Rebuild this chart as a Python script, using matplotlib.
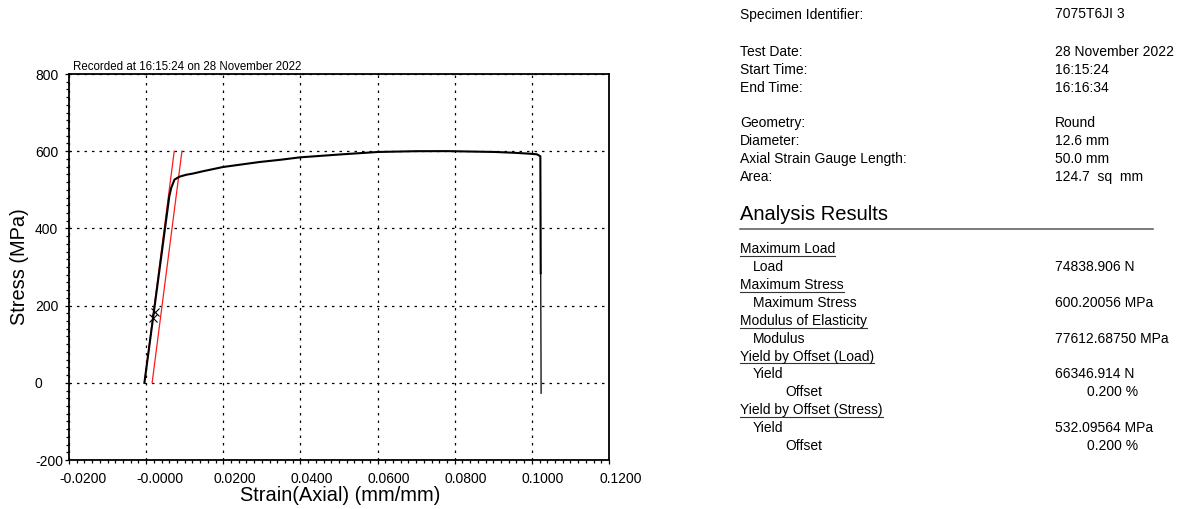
#!/usr/bin/env python3
"""Tensile test report: stress-strain curve with modulus/offset lines and a results panel."""

import matplotlib

matplotlib.use("Agg")
import matplotlib.pyplot as plt
import matplotlib.transforms as mtransforms
from matplotlib.lines import Line2D
from matplotlib.ticker import MultipleLocator

# ---- test curve (strain mm/mm, stress MPa) ----
CURVE_STRAIN = [-0.00045, 0.0060, 0.0065, 0.00735, 0.00865, 0.0104, 0.0121, 0.0147,
                0.0199, 0.0250, 0.0294, 0.0350, 0.0398, 0.0502, 0.0601, 0.0700,
                0.0780, 0.0905, 0.0952, 0.0987, 0.1013, 0.1022, 0.1023]
CURVE_STRESS = [0.0, 483.0, 505.0, 526.5, 534.0, 539.0, 542.0, 548.0,
                559.0, 566.0, 572.0, 578.0, 584.0, 591.5, 598.0, 600.0,
                600.2, 598.0, 596.0, 594.0, 592.0, 587.0, 284.0]
TAIL_STRAIN = [0.1023, 0.1024]
TAIL_STRESS = [284.0, -27.0]

# modulus fit range markers
FIT_STRAIN = [0.0022, 0.0017]
FIT_STRESS = [184.0, 168.0]

MODULUS = 77612.68750      # MPa
OFFSET = 0.200 / 100.0     # 0.200 %
LINE_ORIGIN = -0.00045     # strain where the modulus line meets zero stress
LINE_STRESS = [0.0, 600.0]

XTICKS = [-0.02, 0.0, 0.02, 0.04, 0.06, 0.08, 0.10, 0.12]
XTICK_LABELS = ["-0.0200", "-0.0000", "0.0200", "0.0400", "0.0600", "0.0800", "0.1000", "0.1200"]
YTICKS = [-200, 0, 200, 400, 600, 800]

RECORDED = "Recorded at 16:15:24 on 28 November 2022"

INFO_LABELS = ["Specimen Identifier:", "Test Date:", "Start Time:", "End Time:",
               "Geometry:", "Diameter:", "Axial Strain Gauge Length:", "Area:"]
INFO_VALUES = ["7075T6JI 3", "28 November 2022", "16:15:24", "16:16:34",
               "Round", "12.6 mm", "50.0 mm", "124.7  sq  mm"]

RESULT_LABELS = ["Maximum Load", "Load", "Maximum Stress", "Maximum Stress",
                 "Modulus of Elasticity", "Modulus", "Yield by Offset (Load)", "Yield",
                 "Offset", "Yield by Offset (Stress)", "Yield", "Offset"]
RESULT_VALUES = ["", "74838.906 N", "", "600.20056 MPa",
                 "", "77612.68750 MPa", "", "66346.914 N",
                 "0.200 %", "", "532.09564 MPa", "0.200 %"]
RESULT_LEVELS = [0, 1, 0, 1, 0, 1, 0, 1, 2, 0, 1, 2]

W, H = 1181, 509
FONT = "Liberation Sans"


def fx(px):
    return px / W


def fy(py):
    return 1.0 - py / H


def main():
    plt.rcParams.update({"font.family": FONT, "font.size": 10, "axes.unicode_minus": False})

    fig = plt.figure(figsize=(W / 100, H / 100), dpi=100)
    ax = fig.add_axes([fx(69), fy(460), 540 / W, 386 / H])

    ax.set_xlim(-0.02, 0.12)
    ax.set_ylim(-200, 800)
    ax.set_xticks(XTICKS)
    ax.set_xticklabels(XTICK_LABELS)
    ax.set_yticks(YTICKS)
    ax.xaxis.set_minor_locator(MultipleLocator(0.002))
    ax.yaxis.set_minor_locator(MultipleLocator(20))
    ax.tick_params(which="both", direction="out", width=0.9, colors="black", labelsize=10)
    ax.tick_params(which="major", length=3)
    ax.tick_params(which="minor", length=2)
    ax.tick_params(axis="y", which="major", pad=21.5)
    ax.tick_params(axis="x", which="major", pad=5.5)

    # labels start left of their ticks, as in the test software
    shift = mtransforms.ScaledTranslation(-10 / 100, 0, fig.dpi_scale_trans)
    for lab in ax.get_xticklabels():
        lab.set_horizontalalignment("left")
        lab.set_transform(lab.get_transform() + shift)
    for lab in ax.get_yticklabels():
        lab.set_horizontalalignment("left")

    for sp in ax.spines.values():
        sp.set_linewidth(1.3)
        sp.set_color("black")

    ax.grid(True, which="major", color="black", linestyle=(0, (2, 4)), linewidth=0.9)
    ax.set_axisbelow(True)

    # modulus line and 0.2 % offset line
    mod_strain = [LINE_ORIGIN + s / MODULUS for s in LINE_STRESS]
    off_strain = [e + OFFSET for e in mod_strain]
    ax.plot(mod_strain, LINE_STRESS, color="#ff1a1a", lw=0.9, zorder=3)
    ax.plot(off_strain, LINE_STRESS, color="#ff1a1a", lw=0.9, zorder=3)

    ax.plot(CURVE_STRAIN, CURVE_STRESS, color="black", lw=1.5, zorder=4,
            solid_joinstyle="round")
    ax.plot(TAIL_STRAIN, TAIL_STRESS, color="black", lw=0.9, zorder=4)
    ax.plot(FIT_STRAIN, FIT_STRESS, linestyle="none", marker="x", ms=6,
            mew=0.8, color="black", zorder=5)

    ax.set_xlabel("Strain(Axial) (mm/mm)", fontsize=14.4)
    ax.set_ylabel("Stress (MPa)", fontsize=14.4)
    ax.xaxis.set_label_coords(0.502, -0.068)
    ax.yaxis.set_label_coords(-0.074, 0.5)

    fig.text(fx(73), fy(70.5), RECORDED, fontsize=8.3, va="baseline", ha="left")

    # specimen information
    info_base = [18.5, 56.0, 73.8, 91.6, 127.2, 145.0, 162.8, 180.6]
    for lab, val, yb in zip(INFO_LABELS, INFO_VALUES, info_base):
        fig.text(fx(740), fy(yb), lab, va="baseline", ha="left", fontsize=10)
        fig.text(fx(1055), fy(yb), val, va="baseline", ha="left", fontsize=10)

    fig.text(fx(740), fy(220), "Analysis Results", va="baseline", ha="left", fontsize=14.5)
    fig.add_artist(Line2D([fx(740), fx(1153)], [fy(229), fy(229)],
                          transform=fig.transFigure, color="#555555", lw=1.1))

    indent = [740, 752.5, 785]
    headers = []
    for k, (lab, val, lvl) in enumerate(zip(RESULT_LABELS, RESULT_VALUES, RESULT_LEVELS)):
        yb = 253.2 + 17.9 * k
        t = fig.text(fx(indent[lvl]), fy(yb), lab, va="baseline", ha="left", fontsize=10)
        if lvl == 0:
            headers.append((t, yb))
        if val:
            vx = 1086.7 if lvl == 2 else 1055
            fig.text(fx(vx), fy(yb), val, va="baseline", ha="left", fontsize=10)

    # underline the section headings
    fig.canvas.draw()
    renderer = fig.canvas.get_renderer()
    for t, yb in headers:
        bb = t.get_window_extent(renderer)
        fig.add_artist(Line2D([bb.x0 / W, bb.x1 / W], [fy(yb + 2.8), fy(yb + 2.8)],
                              transform=fig.transFigure, color="#333333", lw=0.8))

    fig.savefig("out.png", dpi=100)


if __name__ == "__main__":
    main()
